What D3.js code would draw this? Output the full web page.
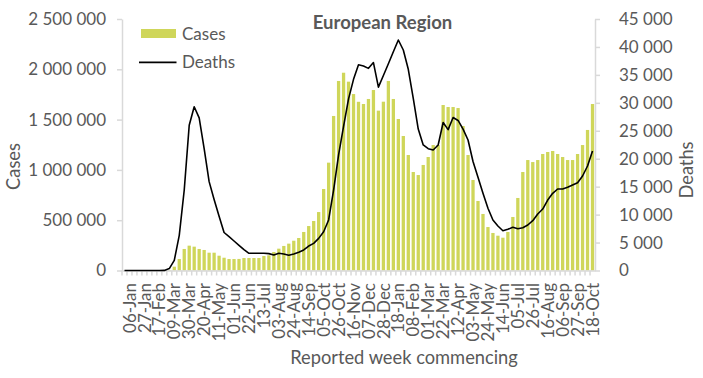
<!DOCTYPE html>
<html>
<head>
<meta charset="utf-8">
<script src="https://cdn.jsdelivr.net/npm/d3@7"></script>
<style>
html,body{margin:0;padding:0;background:#fff;}
svg{display:block;font-family:Lato,"Open Sans",sans-serif;}
</style>
</head>
<body>
<svg id="chart" width="703" height="378"></svg>
<script>
// ---- data ----
const categories = ["30-Dec",
"06-Jan","13-Jan","20-Jan","27-Jan","03-Feb","10-Feb","17-Feb","24-Feb","02-Mar","09-Mar","16-Mar","23-Mar","30-Mar",
"06-Apr","13-Apr","20-Apr","27-Apr","04-May","11-May","18-May","25-May","01-Jun","08-Jun","15-Jun","22-Jun","29-Jun",
"06-Jul","13-Jul","20-Jul","27-Jul","03-Aug","10-Aug","17-Aug","24-Aug","31-Aug","07-Sep","14-Sep","21-Sep","28-Sep",
"05-Oct","12-Oct","19-Oct","26-Oct","02-Nov","09-Nov","16-Nov","23-Nov","30-Nov","07-Dec","14-Dec","21-Dec","28-Dec",
"04-Jan","11-Jan","18-Jan","25-Jan","01-Feb","08-Feb","15-Feb","22-Feb","01-Mar","08-Mar","15-Mar","22-Mar","29-Mar",
"05-Apr","12-Apr","19-Apr","26-Apr","03-May","10-May","17-May","24-May","31-May","07-Jun","14-Jun","21-Jun","28-Jun",
"05-Jul","12-Jul","19-Jul","26-Jul","02-Aug","09-Aug","16-Aug","23-Aug","30-Aug","06-Sep","13-Sep","20-Sep","27-Sep",
"04-Oct","11-Oct","18-Oct"];

const xTickLabels = ["06-Jan","27-Jan","17-Feb","09-Mar","30-Mar","20-Apr","11-May","01-Jun","22-Jun","13-Jul","03-Aug",
"24-Aug","14-Sep","05-Oct","26-Oct","16-Nov","07-Dec","28-Dec","18-Jan","08-Feb","01-Mar","22-Mar","12-Apr","03-May",
"24-May","14-Jun","05-Jul","26-Jul","16-Aug","06-Sep","27-Sep","18-Oct"];

const cases = [0,
0,0,0,0,0,0,0,0,4000,38000,114000,214000,247000,
237000,214000,204000,177000,177000,147000,127000,114000,114000,115000,124000,124000,124000,
124000,144000,151000,184000,217000,244000,267000,296000,323000,383000,442000,492000,581000,
810000,1072000,1536000,1884000,1966000,1877000,1754000,1677000,1655000,1705000,1794000,1589000,1678000,
1884000,1705000,1506000,1337000,1148000,979000,949000,1049000,1128000,1247000,1247000,1645000,1625000,
1625000,1615000,1436000,1148000,900000,691000,562000,432000,373000,346000,326000,383000,532000,
721000,979000,1098000,1078000,1098000,1158000,1178000,1188000,1158000,1128000,1098000,1098000,1158000,
1247000,1397000,1655000];

const deaths = [0,
0,0,0,0,0,0,0,20,350,1800,6300,14400,26000,
29300,27300,21800,15900,12700,9700,6800,6050,5280,4510,3740,3080,3080,
3080,3080,3020,2770,3080,2950,2720,2950,3250,3670,4380,4860,5750,
6940,9040,14400,20700,25800,30700,34200,36800,36600,36170,37200,32800,34900,
37000,39150,41240,39450,36000,30800,25300,22460,21800,21560,22460,26480,25200,
27380,26850,25300,23350,19500,16700,13810,11130,9040,7960,7120,7370,7730,
7480,7660,8140,8910,10110,11000,12610,13810,14580,14580,14890,15300,15710,
16910,18700,21380];

const casesTicks = [0,500000,1000000,1500000,2000000,2500000];
const deathsTicks = [0,5000,10000,15000,20000,25000,30000,35000,40000,45000];

// ---- layout ----
const svg = d3.select("#chart");
const mLeft = 122, mRight = 595, mTop = 19, mBottom = 270.5;
const textCol = "#595959", axisCol = "#d9d9d9", barCol = "#cfd65a";
const fs = 17, fsTitle = 18.5, fsAxisTitle = 18.3;

const x = d3.scaleBand().domain(d3.range(categories.length)).range([mLeft, mRight])
  .paddingInner(0.34).paddingOuter(0.17);
const yC = d3.scaleLinear().domain([0, 2500000]).range([mBottom, mTop]);
const yD = d3.scaleLinear().domain([0, 45000]).range([mBottom, mTop]);

const loc = d3.formatLocale({decimal: ",", thousands: "\u00a0", grouping: [3], currency: ["", ""]});
const fmt = loc.format(",d");

// left axis
const gL = svg.append("g").attr("transform", `translate(${mLeft},0)`)
  .call(d3.axisLeft(yC).tickValues(casesTicks).tickFormat(fmt).tickSize(5).tickSizeOuter(0).tickPadding(11));
// right axis
const gR = svg.append("g").attr("transform", `translate(${mRight},0)`)
  .call(d3.axisRight(yD).tickValues(deathsTicks).tickFormat(fmt).tickSize(5).tickSizeOuter(0).tickPadding(19));
[gL, gR].forEach(g => {
  g.select(".domain").attr("stroke", axisCol).attr("stroke-width", 1.5);
  g.selectAll(".tick line").attr("stroke", axisCol).attr("stroke-width", 1.5);
  g.selectAll(".tick text").attr("fill", textCol).style("font-size", fs + "px").style("font-family", "Lato");
});

// bars
svg.append("g").selectAll("rect").data(cases).join("rect")
  .attr("x", (d, i) => x(i))
  .attr("width", x.bandwidth())
  .attr("y", d => yC(d))
  .attr("height", d => yC(0) - yC(d))
  .attr("fill", barCol);

// x axis: tick marks at category boundaries
const step = x.step();
const gXt = svg.append("g").attr("transform", `translate(0,${mBottom})`)
  .call(d3.axisBottom(x).tickSize(5).tickSizeOuter(0).tickFormat(""));
gXt.selectAll(".tick").attr("transform", function() {
  const t = d3.select(this).attr("transform");
  const m = /translate\(([-\d.]+)/.exec(t);
  return `translate(${+m[1] - step / 2},0)`;
});
gXt.selectAll(".tick line").attr("stroke", axisCol).attr("stroke-width", 1.5);
gXt.select(".domain").attr("stroke", axisCol).attr("stroke-width", 1.5);

// x labels every third week
const labelIdx = d3.range(1, categories.length, 3);
const gXl = svg.append("g").attr("transform", `translate(0,${mBottom})`)
  .call(d3.axisBottom(x).tickValues(labelIdx).tickFormat((k, j) => xTickLabels[j]).tickSize(0));
gXl.select(".domain").remove();
gXl.selectAll(".tick text")
  .attr("transform", "rotate(-90)")
  .attr("x", -12.5).attr("y", 0).attr("dy", "0.36em")
  .style("text-anchor", "end")
  .attr("fill", textCol).style("font-size", fs + "px").style("font-family", "Lato");

// deaths line
const line = d3.line().x((d, i) => x(i) + x.bandwidth() / 2).y(d => yD(d));
svg.append("path").datum(deaths).attr("d", line)
  .attr("fill", "none").attr("stroke", "#000").attr("stroke-width", 1.6).attr("stroke-linejoin", "round");

// title
svg.append("text").attr("x", 382.5).attr("y", 29).attr("text-anchor", "middle")
  .attr("fill", textCol).style("font-size", fsTitle + "px").style("font-weight", "bold")
  .text("European Region");

// axis titles
svg.append("text").attr("transform", "translate(20,166.5) rotate(-90)").attr("text-anchor", "middle")
  .attr("fill", textCol).style("font-size", fsAxisTitle + "px").text("Cases");
svg.append("text").attr("transform", "translate(693,170) rotate(-90)").attr("text-anchor", "middle")
  .attr("fill", textCol).style("font-size", fsAxisTitle + "px").text("Deaths");
svg.append("text").attr("x", 404).attr("y", 364).attr("text-anchor", "middle")
  .attr("fill", textCol).style("font-size", fsAxisTitle + "px").text("Reported week commencing");

// legend
const lg = svg.append("g");
lg.append("rect").attr("x", 141).attr("y", 29).attr("width", 35).attr("height", 9).attr("fill", barCol);
lg.append("text").attr("x", 182).attr("y", 39.5).attr("fill", textCol).style("font-size", fs + "px").text("Cases");
lg.append("line").attr("x1", 139).attr("x2", 176.5).attr("y1", 62.3).attr("y2", 62.3).attr("stroke", "#000").attr("stroke-width", 1.8);
lg.append("text").attr("x", 182).attr("y", 68.3).attr("fill", textCol).style("font-size", fs + "px").text("Deaths");
</script>
</body>
</html>
